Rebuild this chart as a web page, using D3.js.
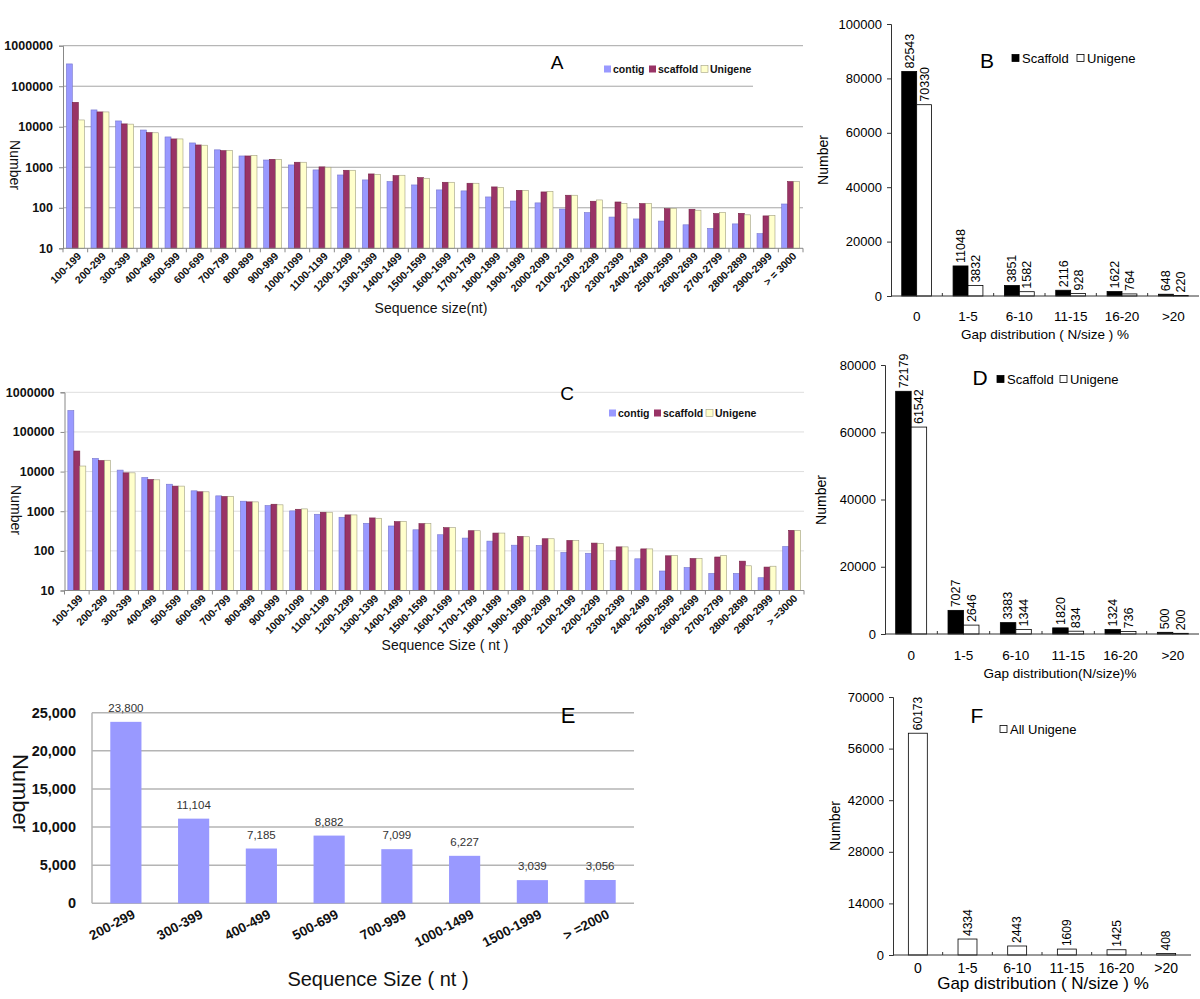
<!DOCTYPE html>
<html><head><meta charset="utf-8">
<script src="https://cdn.jsdelivr.net/npm/d3@7"></script>
<style>body{margin:0;background:#fff}svg{display:block}</style>
</head><body>
<svg id="chart" width="1200" height="999"></svg>
<script>
// ---------- DATA ----------
const sizeCatsA = ["100-199","200-299","300-399","400-499","500-599","600-699","700-799","800-899","900-999","1000-1099","1100-1199","1200-1299","1300-1399","1400-1499","1500-1599","1600-1699","1700-1799","1800-1899","1900-1999","2000-2099","2100-2199","2200-2299","2300-2399","2400-2499","2500-2599","2600-2699","2700-2799","2800-2899","2900-2999","> = 3000"];
const sizeCatsC = sizeCatsA.slice(0, 29).concat(["> =3000"]);
const seriesNames = ["contig","scaffold","Unigene"];
const contigA   = [355000,26000,13900,8300,5600,3980,2690,1900,1510,1140,860,645,487,443,366,276,261,185,147,132,93,76,59,53,47,38,31,40,23,124];
const scaffoldA = [40000,23200,11750,7170,5000,3550,2570,1900,1570,1330,1020,843,684,622,556,426,403,327,270,246,204,145,139,127,95,92,72,73,63,443];
const unigeneA  = [14700,23200,11600,7100,5000,3500,2600,1970,1570,1330,1000,843,670,635,535,426,403,320,270,255,204,156,129,129,97,87,77,67,65,443];
const contigC   = [347000,21500,10900,7100,4800,3270,2440,1790,1390,1020,838,704,496,424,340,255,210,176,139,137,91,87,57,63,31,38,27,27,21,129];
const scaffoldC = [33000,19000,9300,6300,4300,3090,2350,1720,1500,1120,943,807,677,546,485,384,322,281,231,202,183,157,126,112,75,64,70,55,39,329];
const unigeneC  = [13800,19300,9300,6200,4300,3090,2350,1720,1450,1145,943,807,664,557,485,384,322,281,227,202,183,153,126,112,76,64,76,42,41,329];
const logTicks = [10,100,1000,10000,100000,1000000];

const gapCats = ["0","1-5","6-10","11-15","16-20",">20"];
const gapSeries = ["Scaffold","Unigene"];
const scaffoldB = [82543,11048,3851,2116,1622,648];
const unigeneB  = [70330,3832,1582,928,764,220];
const ticksB = [0,20000,40000,60000,80000,100000];
const scaffoldD = [72179,7027,3383,1820,1324,500];
const unigeneD  = [61542,2646,1344,834,736,200];
const ticksD = [0,20000,40000,60000,80000];
const allUnigeneF = [60173,4334,2443,1609,1425,408];
const ticksF = [0,14000,28000,42000,56000,70000];

const sizeCatsE = ["200-299","300-399","400-499","500-699","700-999","1000-1499","1500-1999","> =2000"];
const valuesE = [23800,11104,7185,8882,7099,6227,3039,3056];
const ticksE = [0,5000,10000,15000,20000,25000];

// ---------- DRAW ----------
const svg = d3.select("#chart");
const FONT = "'Liberation Sans', Arial, sans-serif";
const barColors = ["#9999ff","#993366","#ffffcc"];

function logPanel(o) {
  const g = svg.append("g").attr("font-family", FONT);
  const x = d3.scaleBand().domain(o.cats).range([o.x0, o.x1]);
  const inner = d3.scaleBand().domain([0,1,2]).range([0, x.bandwidth()]).paddingOuter(0.56);
  const y = d3.scaleLog().domain([10, 1e6]).range([o.yb, o.yt]);
  g.selectAll("line.grid").data(logTicks.slice(1)).join("line")
    .attr("x1", o.x0).attr("x2", d => (d === 100000 && o.shortGrid) ? o.shortGrid : o.x1)
    .attr("y1", d => y(d)).attr("y2", d => y(d))
    .attr("stroke", o.gridColor).attr("stroke-width", 1);
  const data = o.cats.map((c, i) => [o.s[0][i], o.s[1][i], o.s[2][i]]);
  const grp = g.selectAll("g.grp").data(data).join("g")
    .attr("transform", (d, i) => `translate(${x(o.cats[i])},0)`);
  grp.selectAll("rect").data(d => d).join("rect")
    .attr("x", (d, j) => inner(j)).attr("width", inner.bandwidth())
    .attr("y", d => y(d)).attr("height", d => y(10) - y(d))
    .attr("fill", (d, j) => barColors[j])
    .attr("stroke", (d, j) => j === 2 ? "#a09e80" : (j === 0 ? "#7777cc" : "#772244"))
    .attr("stroke-width", 0.6);
  const ya = g.append("g").attr("transform", `translate(${o.x0},0)`)
    .call(d3.axisLeft(y).tickValues(logTicks).tickFormat(d3.format("d")).tickSize(4).tickPadding(6));
  ya.select(".domain").attr("stroke", "#888");
  ya.selectAll(".tick line").attr("stroke", "#888");
  ya.selectAll("text").attr("font-size", 12.5).attr("font-weight", "bold").attr("font-family", FONT).attr("fill", "#111");
  g.append("line").attr("x1", o.x0).attr("x2", o.x1).attr("y1", y(10)).attr("y2", y(10)).attr("stroke", "#888");
  g.selectAll("line.xt").data(o.cats.concat(["end"])).join("line")
    .attr("x1", (d, i) => o.x0 + i * x.step()).attr("x2", (d, i) => o.x0 + i * x.step())
    .attr("y1", y(10)).attr("y2", y(10) + 4).attr("stroke", "#888");
  g.selectAll("text.xl").data(o.cats).join("text")
    .attr("transform", d => `translate(${x(d) + x.bandwidth() / 2 + 1},${y(10) + 3}) rotate(-45)`)
    .attr("text-anchor", "end").attr("dy", "0.75em")
    .attr("font-size", 10.5).attr("font-weight", "bold").attr("fill", "#111").text(d => d);
  g.append("text").attr("transform", `translate(${o.ytx},${o.yty}) rotate(90)`)
    .attr("text-anchor", "middle").attr("font-size", 14).attr("fill", "#111").text("Number");
  g.append("text").attr("x", o.xtx).attr("y", o.xty).attr("text-anchor", "middle")
    .attr("font-size", 14).attr("fill", "#111").text(o.xtitle);
  g.append("text").attr("x", o.letterX).attr("y", o.letterY).attr("text-anchor", "middle")
    .attr("font-size", 19).attr("fill", "#000").text(o.letter);
  const lg = g.append("g").attr("transform", `translate(${o.legX},${o.legY})`);
  const offs = [0, 45, 97];
  seriesNames.forEach((s, i) => {
    lg.append("rect").attr("x", offs[i]).attr("y", -3.5).attr("width", 7).attr("height", 7)
      .attr("fill", barColors[i]).attr("stroke", i === 2 ? "#a09e80" : "none").attr("stroke-width", 0.6);
    lg.append("text").attr("x", offs[i] + 9).attr("y", 0).attr("dy", "0.35em")
      .attr("font-size", 10.5).attr("font-weight", "bold").attr("fill", "#111").text(s);
  });
}

logPanel({cats: sizeCatsA, s: [contigA, scaffoldA, unigeneA], x0: 63, x1: 803, yb: 248.3, yt: 45.7,
  gridColor: "#a6a6a6", shortGrid: 753, ytx: 10, yty: 165, xtx: 431, xty: 313, xtitle: "Sequence size(nt)",
  letter: "A", letterX: 557, letterY: 69, legX: 604, legY: 69});
logPanel({cats: sizeCatsC, s: [contigC, scaffoldC, unigeneC], x0: 64.5, x1: 804, yb: 590.5, yt: 392.3,
  gridColor: "#dedede", shortGrid: null, ytx: 11, yty: 510, xtx: 445, xty: 650, xtitle: "Sequence Size ( nt )",
  letter: "C", letterX: 567, letterY: 400, legX: 609, legY: 413});

function gapPanel(o) {
  const g = svg.append("g").attr("font-family", FONT);
  const x = d3.scaleBand().domain(gapCats).range([o.x0, o.x1]);
  const inner = d3.scaleBand().domain(d3.range(o.series.length)).range([0, x.bandwidth()]).paddingOuter(o.po);
  const y = d3.scaleLinear().domain([0, o.ymax]).range([o.yb, o.yt]);
  const data = gapCats.map((c, i) => o.series.map(s => s[i]));
  const grp = g.selectAll("g.grp").data(data).join("g")
    .attr("transform", (d, i) => `translate(${x(gapCats[i])},0)`);
  grp.selectAll("rect").data(d => d).join("rect")
    .attr("x", (d, j) => inner(j)).attr("width", inner.bandwidth())
    .attr("y", d => y(d)).attr("height", d => y(0) - y(d))
    .attr("fill", (d, j) => o.fills[j]).attr("stroke", "#000").attr("stroke-width", 0.8);
  grp.selectAll("text").data(d => d).join("text")
    .attr("transform", (d, j) => `translate(${inner(j) + inner.bandwidth() / 2},${y(d) - 3}) rotate(-90)`)
    .attr("dy", "0.35em").attr("font-size", o.vfs).attr("fill", "#000").text(d => d);
  const ya = g.append("g").attr("transform", `translate(${o.x0},0)`)
    .call(d3.axisLeft(y).tickValues(o.ticks).tickFormat(d3.format("d")).tickSize(4).tickPadding(5));
  ya.select(".domain").attr("stroke", "#333");
  ya.selectAll(".tick line").attr("stroke", "#333");
  ya.selectAll("text").attr("font-size", 13).attr("font-family", FONT).attr("fill", "#000");
  g.append("line").attr("x1", o.x0).attr("x2", o.x1).attr("y1", y(0)).attr("y2", y(0)).attr("stroke", "#333");
  g.selectAll("line.xt").data(gapCats.slice(1)).join("line")
    .attr("x1", d => x(d)).attr("x2", d => x(d)).attr("y1", y(0)).attr("y2", y(0) - 3).attr("stroke", "#333");
  g.selectAll("text.xl").data(gapCats).join("text")
    .attr("x", d => x(d) + x.bandwidth() / 2).attr("y", o.catY).attr("dy", "0.35em")
    .attr("text-anchor", "middle").attr("font-size", o.cfs).attr("fill", "#000").text(d => d);
  g.append("text").attr("transform", `translate(${o.ytx},${o.yty}) rotate(-90)`)
    .attr("text-anchor", "middle").attr("font-size", 14).attr("fill", "#000").text("Number");
  g.append("text").attr("x", o.xtx).attr("y", o.xty).attr("dy", "0.35em").attr("text-anchor", "middle")
    .attr("font-size", o.xtfs).attr("fill", "#000").text(o.xtitle);
  g.append("text").attr("x", o.letterX).attr("y", o.letterY).attr("dy", "0.35em").attr("text-anchor", "middle")
    .attr("font-size", 21).attr("fill", "#000").text(o.letter);
  o.legend.forEach((l, i) => {
    g.append("rect").attr("x", l[0]).attr("y", o.legY - 3.5).attr("width", 7).attr("height", 7)
      .attr("fill", o.fills[i]).attr("stroke", "#000").attr("stroke-width", 0.8);
    g.append("text").attr("x", l[0] + 10).attr("y", o.legY).attr("dy", "0.35em")
      .attr("font-size", 13).attr("fill", "#000").text(l[1]);
  });
}

gapPanel({series: [scaffoldB, unigeneB], fills: ["#000", "#fff"], x0: 891, x1: 1199, yb: 296, yt: 24, ymax: 100000,
  ticks: ticksB, po: 0.72, vfs: 12.5, catY: 316, cfs: 13.5, ytx: 828, yty: 160, xtx: 1045, xty: 334,
  xtitle: "Gap distribution ( N/size ) %", xtfs: 13.5, letter: "B", letterX: 987, letterY: 61,
  legend: [[1012, "Scaffold"], [1077, "Unigene"]], legY: 58});
gapPanel({series: [scaffoldD, unigeneD], fills: ["#000", "#fff"], x0: 885, x1: 1199, yb: 634, yt: 365, ymax: 80000,
  ticks: ticksD, po: 0.69, vfs: 12.5, catY: 655, cfs: 13.5, ytx: 826, yty: 500, xtx: 1060, xty: 673,
  xtitle: "Gap distribution(N/size)%", xtfs: 13.5, letter: "D", letterX: 980, letterY: 378,
  legend: [[997, "Scaffold"], [1060, "Unigene"]], legY: 379});
gapPanel({series: [allUnigeneF], fills: ["#fff"], x0: 893, x1: 1191, yb: 955, yt: 697, ymax: 70000,
  ticks: ticksF, po: 0.81, vfs: 12, catY: 968, cfs: 14, ytx: 840, yty: 826, xtx: 1043, xty: 983,
  xtitle: "Gap distribution ( N/size ) %", xtfs: 17, letter: "F", letterX: 977, letterY: 716,
  legend: [[1000, "All Unigene"]], legY: 729});

// Panel E
(function () {
  const g = svg.append("g").attr("font-family", FONT);
  const x = d3.scaleBand().domain(sizeCatsE).range([92, 634]).paddingInner(0.54).paddingOuter(0.27);
  const y = d3.scaleLinear().domain([0, 25000]).range([903.3, 712.7]);
  g.selectAll("line.grid").data(ticksE).join("line")
    .attr("x1", 92).attr("x2", 634).attr("y1", d => y(d)).attr("y2", d => y(d))
    .attr("stroke", "#b4b4b4").attr("stroke-width", 1.5);
  g.append("line").attr("x1", 92).attr("x2", 92).attr("y1", y(25000)).attr("y2", y(0))
    .attr("stroke", "#b4b4b4").attr("stroke-width", 1.5);
  g.selectAll("rect").data(valuesE).join("rect")
    .attr("x", (d, i) => x(sizeCatsE[i])).attr("width", x.bandwidth())
    .attr("y", d => y(d)).attr("height", d => y(0) - y(d)).attr("fill", "#9999ff");
  g.selectAll("text.v").data(valuesE).join("text")
    .attr("x", (d, i) => x(sizeCatsE[i]) + x.bandwidth() / 2).attr("y", d => y(d) - 10)
    .attr("text-anchor", "middle").attr("font-size", 11.5).attr("fill", "#333").text(d => d3.format(",")(d));
  const ya = g.append("g").attr("transform", "translate(92,0)")
    .call(d3.axisLeft(y).tickValues(ticksE).tickFormat(d3.format(",")).tickSize(0).tickPadding(16));
  ya.select(".domain").remove();
  ya.selectAll("text").attr("font-size", 14.5).attr("font-weight", "bold").attr("font-family", FONT).attr("fill", "#111");
  g.selectAll("text.xl").data(sizeCatsE).join("text")
    .attr("transform", d => `translate(${x(d) + x.bandwidth() / 2 + 8},${913}) rotate(-28)`)
    .attr("text-anchor", "end").attr("dy", "0.35em")
    .attr("font-size", 13.5).attr("font-weight", "bold").attr("fill", "#111").text(d => d);
  g.append("text").attr("transform", "translate(13,793) rotate(90)").attr("text-anchor", "middle")
    .attr("font-size", 22).attr("fill", "#111").text("Number");
  g.append("text").attr("x", 378).attr("y", 979).attr("dy", "0.35em").attr("text-anchor", "middle")
    .attr("font-size", 20).attr("fill", "#111").text("Sequence Size ( nt )");
  g.append("text").attr("x", 568).attr("y", 715).attr("dy", "0.35em").attr("text-anchor", "middle")
    .attr("font-size", 22).attr("fill", "#000").text("E");
})();
</script>
</body></html>
